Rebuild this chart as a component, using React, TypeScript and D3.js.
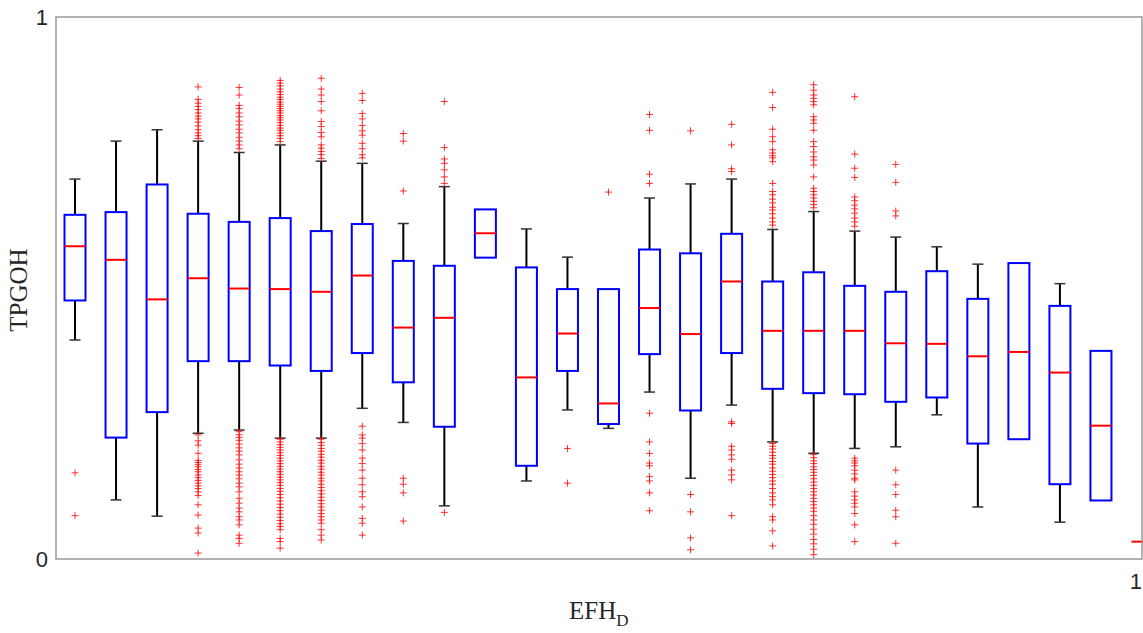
import React from "react";
import * as d3 from "d3";

// box statistics, one entry per group (27 groups)
const groups = d3.range(1, 28);
const whiskerLow = [0.404, 0.109, 0.079, 0.232, 0.238, 0.223, 0.223, 0.278, 0.252, 0.098, 0.556, 0.144, 0.275, 0.241, 0.308, 0.149, 0.284, 0.216, 0.195, 0.204, 0.207, 0.266, 0.096, 0.221, 0.068, 0.108, 0.032];
const q1 = [0.477, 0.224, 0.271, 0.365, 0.365, 0.357, 0.347, 0.380, 0.326, 0.244, 0.556, 0.172, 0.347, 0.249, 0.378, 0.274, 0.380, 0.314, 0.306, 0.304, 0.290, 0.298, 0.213, 0.221, 0.138, 0.108, 0.032];
const median = [0.577, 0.552, 0.479, 0.518, 0.499, 0.498, 0.493, 0.523, 0.427, 0.445, 0.601, 0.335, 0.416, 0.287, 0.463, 0.415, 0.512, 0.421, 0.421, 0.421, 0.398, 0.397, 0.374, 0.382, 0.344, 0.246, 0.032];
const q3 = [0.635, 0.640, 0.691, 0.637, 0.622, 0.629, 0.605, 0.618, 0.550, 0.541, 0.645, 0.538, 0.498, 0.498, 0.571, 0.564, 0.600, 0.512, 0.529, 0.504, 0.493, 0.531, 0.480, 0.546, 0.467, 0.384, 0.032];
const whiskerHigh = [0.701, 0.771, 0.792, 0.771, 0.750, 0.764, 0.734, 0.730, 0.619, 0.687, 0.645, 0.609, 0.557, 0.498, 0.666, 0.692, 0.701, 0.608, 0.641, 0.605, 0.594, 0.576, 0.544, 0.546, 0.508, 0.384, 0.032];

const outliers = [
  [0.159, 0.080],
  [],
  [],
  [0.871, 0.848, 0.841, 0.835, 0.829, 0.823, 0.817, 0.812, 0.806, 0.799, 0.792, 0.786, 0.781, 0.776,
   0.229, 0.218, 0.210, 0.195, 0.182, 0.178, 0.174, 0.170, 0.165, 0.161, 0.155, 0.150, 0.145, 0.140, 0.135, 0.130, 0.124, 0.117, 0.100, 0.081, 0.057, 0.048, 0.011],
  [0.870, 0.856, 0.837, 0.831, 0.823, 0.816, 0.808, 0.801, 0.793, 0.786, 0.778, 0.771, 0.764, 0.757,
   0.235, 0.229, 0.224, 0.219, 0.212, 0.205, 0.199, 0.192, 0.183, 0.175, 0.168, 0.161, 0.155, 0.148, 0.140, 0.133, 0.124, 0.112, 0.103, 0.094, 0.087, 0.078, 0.072, 0.063, 0.044, 0.038, 0.029],
  [0.883, 0.878, 0.873, 0.867, 0.862, 0.857, 0.852, 0.848, 0.843, 0.839, 0.835, 0.831, 0.827, 0.823, 0.818, 0.814, 0.810, 0.805, 0.800, 0.795, 0.791, 0.786, 0.781, 0.776, 0.770,
   0.221, 0.216, 0.211, 0.206, 0.201, 0.196, 0.191, 0.186, 0.181, 0.176, 0.171, 0.166, 0.161, 0.156, 0.151, 0.146, 0.141, 0.136, 0.130, 0.125, 0.119, 0.113, 0.107, 0.101, 0.095, 0.089, 0.083, 0.077, 0.071, 0.065, 0.060, 0.054, 0.038, 0.032, 0.020],
  [0.887, 0.867, 0.856, 0.844, 0.827, 0.807, 0.798, 0.787, 0.779, 0.764, 0.758, 0.752, 0.746, 0.739,
   0.221, 0.215, 0.210, 0.204, 0.199, 0.193, 0.188, 0.182, 0.177, 0.171, 0.166, 0.160, 0.155, 0.149, 0.144, 0.138, 0.132, 0.126, 0.120, 0.114, 0.108, 0.102, 0.096, 0.090, 0.084, 0.078, 0.072, 0.066, 0.054, 0.044, 0.035],
  [0.859, 0.846, 0.822, 0.812, 0.800, 0.790, 0.782, 0.767, 0.757, 0.746, 0.740,
   0.245, 0.229, 0.223, 0.213, 0.201, 0.186, 0.176, 0.164, 0.149, 0.137, 0.124, 0.115, 0.096, 0.075, 0.066, 0.044],
  [0.785, 0.771, 0.679, 0.149, 0.138, 0.122, 0.070],
  [0.844, 0.759, 0.738, 0.730, 0.718, 0.705, 0.693, 0.086],
  [],
  [],
  [0.204, 0.140],
  [0.677],
  [0.820, 0.791, 0.710, 0.693, 0.269, 0.216, 0.195, 0.177, 0.172, 0.152, 0.144, 0.122, 0.089],
  [0.790, 0.119, 0.087, 0.039, 0.017],
  [0.802, 0.764, 0.720, 0.715, 0.253, 0.250, 0.208, 0.201, 0.192, 0.184, 0.164, 0.155, 0.146, 0.080],
  [0.861, 0.833, 0.793, 0.779, 0.770, 0.755, 0.749, 0.744, 0.740, 0.733, 0.693, 0.678, 0.672, 0.664, 0.657, 0.649, 0.644, 0.637, 0.629, 0.622, 0.616,
   0.213, 0.208, 0.203, 0.197, 0.191, 0.186, 0.180, 0.175, 0.168, 0.162, 0.156, 0.150, 0.144, 0.138, 0.130, 0.122, 0.115, 0.109, 0.100, 0.078, 0.072, 0.052, 0.024],
  [0.875, 0.865, 0.856, 0.850, 0.844, 0.838, 0.816, 0.810, 0.804, 0.791, 0.770, 0.761, 0.751, 0.742, 0.736, 0.727, 0.705, 0.684, 0.678, 0.672, 0.666, 0.660, 0.654, 0.648,
   0.193, 0.187, 0.181, 0.176, 0.170, 0.165, 0.160, 0.154, 0.148, 0.142, 0.136, 0.130, 0.124, 0.118, 0.112, 0.106, 0.100, 0.094, 0.088, 0.080, 0.072, 0.064, 0.055, 0.046, 0.036, 0.028, 0.018, 0.008],
  [0.853, 0.747, 0.721, 0.704, 0.668, 0.661, 0.653, 0.646, 0.638, 0.629, 0.622, 0.614,
   0.186, 0.181, 0.177, 0.172, 0.164, 0.157, 0.149, 0.146, 0.124, 0.116, 0.109, 0.103, 0.096, 0.084, 0.063, 0.032],
  [0.728, 0.695, 0.642, 0.633, 0.164, 0.137, 0.119, 0.090, 0.078, 0.029],
  [],
  [],
  [],
  [],
  [],
  [],
];

const yTicks = [0, 1];
const xTickLabel = "1";

const W = 1143;
const H = 633;
const plot = { left: 56, right: 1142, top: 17, bottom: 559 };
const boxW = 21;
const capW = 11;

export default function App() {
  const x = d3.scaleLinear().domain([0.537, 27]).range([plot.left, plot.right]);
  const y = d3.scaleLinear().domain([0, 1]).range([plot.bottom, plot.top]);

  return (
    <svg width={W} height={H} style={{ position: "absolute", left: 0, top: 0, background: "#fff" }}>
      <defs>
        <clipPath id="plot-clip">
          <rect x={plot.left} y={plot.top} width={W - plot.left} height={plot.bottom - plot.top} />
        </clipPath>
      </defs>
      <g clipPath="url(#plot-clip)">
        {groups.map((g, i) => {
          const cx = x(g);
          return (
            <g key={g}>
              {/* whiskers */}
              <line x1={cx} x2={cx} y1={y(q3[i])} y2={y(whiskerHigh[i])} stroke="#000" strokeWidth={2} />
              <line x1={cx} x2={cx} y1={y(q1[i])} y2={y(whiskerLow[i])} stroke="#000" strokeWidth={2} />
              {whiskerHigh[i] > q3[i] && (
                <line x1={cx - capW / 2} x2={cx + capW / 2} y1={y(whiskerHigh[i])} y2={y(whiskerHigh[i])} stroke="#333" strokeWidth={1.5} />
              )}
              {whiskerLow[i] < q1[i] && (
                <line x1={cx - capW / 2} x2={cx + capW / 2} y1={y(whiskerLow[i])} y2={y(whiskerLow[i])} stroke="#333" strokeWidth={1.5} />
              )}
              {/* box */}
              {q3[i] > q1[i] && (
                <rect x={cx - boxW / 2} y={y(q3[i])} width={boxW} height={y(q1[i]) - y(q3[i])}
                  fill="none" stroke="#0000ff" strokeWidth={2} />
              )}
              {/* median */}
              <line x1={cx - boxW / 2} x2={cx + boxW / 2} y1={y(median[i])} y2={y(median[i])} stroke="#ff0000" strokeWidth={2} />
              {/* outliers */}
              {outliers[i].map((v, j) => (
                <path key={j} d={`M${cx - 3.5},${y(v)}H${cx + 3.5}M${cx},${y(v) - 3.5}V${y(v) + 3.5}`}
                  stroke="#ff0000" strokeOpacity={0.8} strokeWidth={1} fill="none" />
              ))}
            </g>
          );
        })}
      </g>
      {/* axes box */}
      <rect x={plot.left} y={plot.top} width={plot.right - plot.left} height={plot.bottom - plot.top}
        fill="none" stroke="#999" strokeWidth={1.5} />
      {yTicks.map((t) => (
        <text key={t} x={48} y={y(t) + 8} textAnchor="end" fontFamily="Liberation Sans, Arial, sans-serif"
          fontSize={22} fill="#262626">{t}</text>
      ))}
      <text x={W - 1} y={589} textAnchor="end" fontFamily="Liberation Sans, Arial, sans-serif"
        fontSize={22} fill="#262626">{xTickLabel}</text>
      <text transform={`translate(27,${(plot.top + plot.bottom) / 2 + 2}) rotate(-90)`} textAnchor="middle"
        fontFamily="Liberation Serif, Times New Roman, serif" fontSize={25} fill="#262626">TPGOH</text>
      <text x={569} y={619} fontFamily="Liberation Serif, Times New Roman, serif" fontSize={25} fill="#262626">
        EFH<tspan fontSize={17} dy={7}>D</tspan>
      </text>
    </svg>
  );
}
